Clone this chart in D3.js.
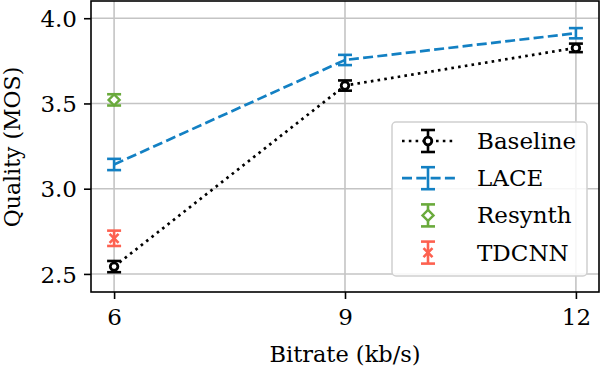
<!DOCTYPE html>
<html>
<head>
<meta charset="utf-8">
<script src="https://cdn.jsdelivr.net/npm/d3@7"></script>
<style>
  body { margin: 0; background: white; }
</style>
</head>
<body>
<div id="chart"></div>
<script>
// data
var bitrates = [6, 9, 12];
var baselineMos = [2.543, 3.605, 3.826];
var baselineErr = [0.033, 0.03, 0.025];
var laceMos = [3.142, 3.755, 3.912];
var laceErr = [0.033, 0.03, 0.03];
var resynthRate = [6];
var resynthMos = [3.521];
var resynthErr = [0.033];
var tdcnnRate = [6];
var tdcnnMos = [2.709];
var tdcnnErr = [0.045];
var xTicks = [6, 9, 12];
var yTicks = [2.5, 3.0, 3.5, 4.0];

var W = 602, H = 372;
var plot = { left: 91, right: 599, top: 1, bottom: 292 };
var serif = "DejaVu Serif";
var fs = 23;

var svg = d3.select("#chart").append("svg")
    .attr("width", W)
    .attr("height", H)
    .style("font-family", serif);

var x = d3.scaleLinear().domain([5.7, 12.3]).range([plot.left, plot.right]);
var y = d3.scaleLinear().domain([2.394, 4.101]).range([plot.bottom, plot.top]);

// grid
svg.append("g").selectAll("line.gx")
    .data(xTicks).enter().append("line")
    .attr("x1", function(d) { return x(d); })
    .attr("x2", function(d) { return x(d); })
    .attr("y1", plot.top).attr("y2", plot.bottom)
    .attr("stroke", "#c4c4c4").attr("stroke-width", 1.6);
svg.append("g").selectAll("line.gy")
    .data(yTicks).enter().append("line")
    .attr("y1", function(d) { return y(d); })
    .attr("y2", function(d) { return y(d); })
    .attr("x1", plot.left).attr("x2", plot.right)
    .attr("stroke", "#c4c4c4").attr("stroke-width", 1.6);

// axes
var xAxis = svg.append("g")
    .attr("transform", "translate(0," + plot.bottom + ")")
    .call(d3.axisBottom(x).tickValues(xTicks).tickSize(7).tickPadding(9).tickFormat(d3.format("d")));
var yAxis = svg.append("g")
    .attr("transform", "translate(" + plot.left + ",0)")
    .call(d3.axisLeft(y).tickValues(yTicks).tickSize(7).tickPadding(7).tickFormat(d3.format(".1f")));
[xAxis, yAxis].forEach(function(a) {
    a.attr("font-family", null).attr("font-size", null);
    a.select(".domain").remove();
    a.selectAll(".tick line").attr("stroke", "black").attr("stroke-width", 1.6);
    a.selectAll(".tick text")
        .style("font-family", serif)
        .style("font-size", fs + "px")
        .attr("fill", "black");
});
yAxis.selectAll(".tick text").attr("dy", "0.36em");
xAxis.selectAll(".tick text").attr("dy", "0.74em");

svg.append("rect")
    .attr("x", plot.left).attr("y", plot.top)
    .attr("width", plot.right - plot.left)
    .attr("height", plot.bottom - plot.top)
    .attr("fill", "none").attr("stroke", "black").attr("stroke-width", 1.6);

// axis labels
svg.append("text")
    .attr("x", 345)
    .attr("y", 362)
    .attr("text-anchor", "middle")
    .style("font-family", serif)
    .style("font-size", "22.5px")
    .text("Bitrate (kb/s)");
svg.append("text")
    .attr("transform", "translate(20," + 147 + ") rotate(-90)")
    .attr("text-anchor", "middle")
    .style("font-family", serif)
    .style("font-size", "22px")
    .text("Quality (MOS)");

var cap = 7;

function errorBars(g, xs, ys, es, color) {
    xs.forEach(function(xv, i) {
        var cx = x(xv), top = y(ys[i] + es[i]), bot = y(ys[i] - es[i]);
        g.append("line").attr("x1", cx).attr("x2", cx).attr("y1", top).attr("y2", bot)
            .attr("stroke", color).attr("stroke-width", 2.6);
        [top, bot].forEach(function(yy) {
            g.append("line").attr("x1", cx - cap).attr("x2", cx + cap)
                .attr("y1", yy).attr("y2", yy)
                .attr("stroke", color).attr("stroke-width", 2.6);
        });
    });
}

function marker(g, kind, cx, cy, color) {
    if (kind === "circle") {
        g.append("circle").attr("cx", cx).attr("cy", cy).attr("r", 3.8)
            .attr("fill", "white").attr("stroke", color).attr("stroke-width", 2.8);
    } else if (kind === "diamond") {
        var s = 5.5;
        g.append("path")
            .attr("d", "M" + cx + "," + (cy - s) + "L" + (cx + s) + "," + cy + "L" + cx + "," + (cy + s) + "L" + (cx - s) + "," + cy + "Z")
            .attr("fill", "white").attr("stroke", color).attr("stroke-width", 2.4);
    } else if (kind === "x") {
        var r = 4.5;
        g.append("path")
            .attr("d", "M" + (cx - r) + "," + (cy - r) + "L" + (cx + r) + "," + (cy + r) + "M" + (cx - r) + "," + (cy + r) + "L" + (cx + r) + "," + (cy - r))
            .attr("stroke", color).attr("stroke-width", 2.6).attr("fill", "none");
    }
}

var line = d3.line()
    .x(function(d) { return x(d[0]); })
    .y(function(d) { return y(d[1]); });

var series = [
    { name: "Baseline", xs: bitrates, ys: baselineMos, es: baselineErr, color: "#000000", dash: "2.6,4.2", mk: "circle" },
    { name: "LACE", xs: bitrates, ys: laceMos, es: laceErr, color: "#1380c3", dash: "10,4.3", mk: null },
    { name: "Resynth", xs: resynthRate, ys: resynthMos, es: resynthErr, color: "#6aaa3c", dash: null, mk: "diamond" },
    { name: "TDCNN", xs: tdcnnRate, ys: tdcnnMos, es: tdcnnErr, color: "#fd6150", dash: null, mk: "x" }
];

series.forEach(function(s) {
    var g = svg.append("g");
    if (s.xs.length > 1) {
        g.append("path")
            .datum(d3.zip(s.xs, s.ys))
            .attr("d", line)
            .attr("fill", "none")
            .attr("stroke", s.color)
            .attr("stroke-width", 2.7)
            .attr("stroke-dasharray", s.dash);
    }
    errorBars(g, s.xs, s.ys, s.es, s.color);
    if (s.mk) {
        s.xs.forEach(function(xv, i) { marker(g, s.mk, x(xv), y(s.ys[i]), s.color); });
    }
});

// legend
var leg = svg.append("g");
leg.append("rect")
    .attr("x", 392).attr("y", 122)
    .attr("width", 195).attr("height", 154)
    .attr("rx", 4).attr("ry", 4)
    .attr("fill", "white").attr("fill-opacity", 0.85)
    .attr("stroke", "#d0d0d0").attr("stroke-width", 1.5);

series.forEach(function(s, i) {
    var cy = 141 + i * 37.2, cx = 428;
    var g = leg.append("g");
    if (s.dash) {
        g.append("line").attr("x1", 402).attr("x2", 455).attr("y1", cy).attr("y2", cy)
            .attr("stroke", s.color).attr("stroke-width", 2.7)
            .attr("stroke-dasharray", s.dash);
    }
    g.append("line").attr("x1", cx).attr("x2", cx).attr("y1", cy - 11).attr("y2", cy + 11)
        .attr("stroke", s.color).attr("stroke-width", 2.6);
    [cy - 11, cy + 11].forEach(function(yy) {
        g.append("line").attr("x1", cx - cap).attr("x2", cx + cap).attr("y1", yy).attr("y2", yy)
            .attr("stroke", s.color).attr("stroke-width", 2.6);
    });
    if (s.mk) marker(g, s.mk, cx, cy, s.color);
    g.append("text")
        .attr("x", 477).attr("y", cy + 8)
        .style("font-family", serif)
        .style("font-size", fs + "px")
        .attr("fill", "black")
        .text(s.name);
});
</script>
</body>
</html>
